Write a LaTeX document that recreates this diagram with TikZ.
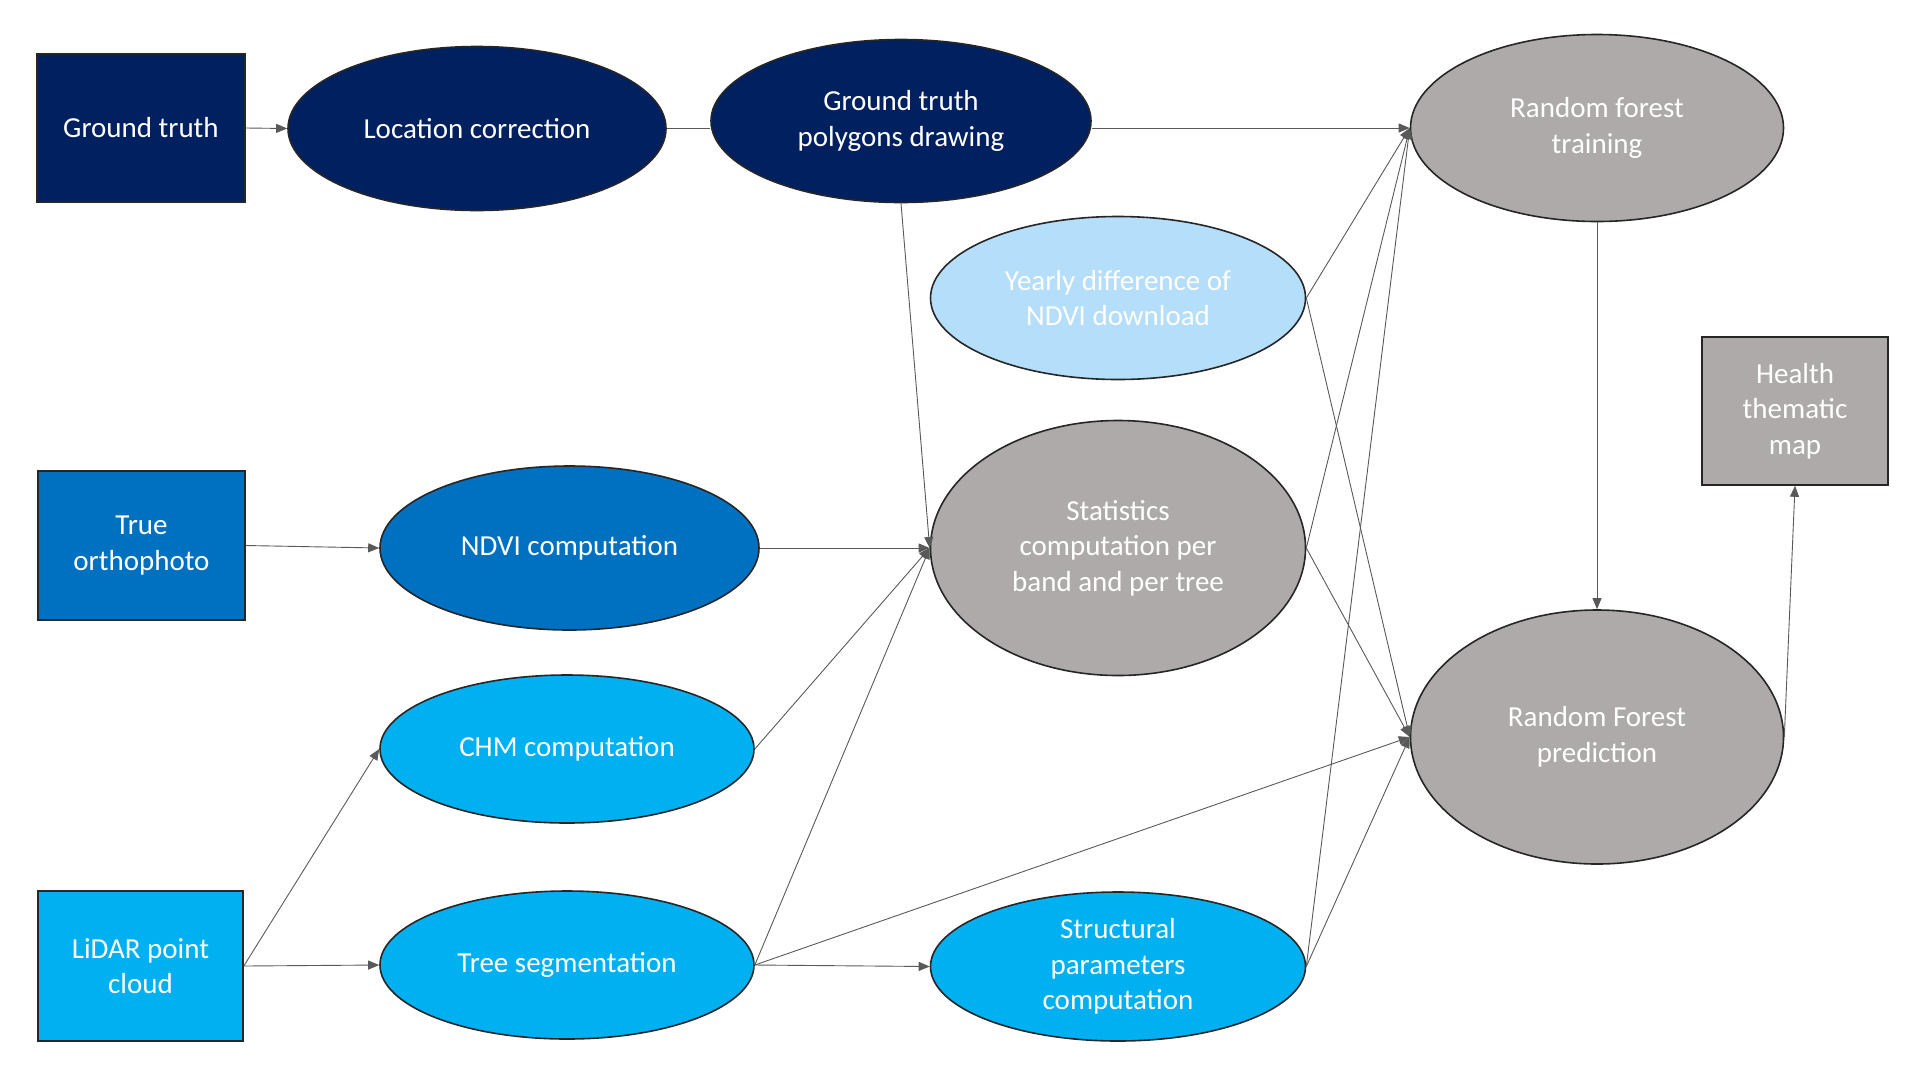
\documentclass[tikz,border=0pt]{standalone}
\usepackage{fontspec}
\setmainfont{Carlito}
\usetikzlibrary{shapes.geometric,arrows.meta}
\definecolor{navy}{HTML}{002060}
\definecolor{midblue}{HTML}{0070C0}
\definecolor{skyblue}{HTML}{00B0F0}
\definecolor{paleblue}{HTML}{B4DEFA}
\definecolor{greyfill}{HTML}{AEAAAA}
\definecolor{linegrey}{HTML}{595959}
\tikzset{
  lbl/.style={text=white, font=\fontsize{29}{35.5}\selectfont, align=center, inner sep=0pt},
  ell/.style={lbl, ellipse, draw=black!85, line width=1.6pt},
  boxnode/.style={lbl, rectangle, draw=black!85, line width=1.6pt},
  conn/.style={draw=linegrey, line width=0.9pt},
  arr/.style={conn, -{Triangle[length=11pt,width=9pt]}}
}
\begin{document}
\begin{tikzpicture}[x=1pt,y=-1pt]
\useasboundingbox (0,0) rectangle (1905,1080);
% nodes
\node[boxnode, fill=navy, minimum width=208pt, minimum height=148pt] (gt) at (141,128) {Ground truth};
\node[ell, fill=navy, minimum width=378pt, minimum height=164pt] (loc) at (477,128.5) {Location correction};
\node[ell, fill=navy, minimum width=380pt, minimum height=163pt] (gtp) at (901,121) {Ground truth\\polygons drawing};
\node[ell, fill=greyfill, minimum width=373pt, minimum height=187pt] (rft) at (1597,128) {Random forest\\training};
\node[ell, fill=paleblue, minimum width=375pt, minimum height=163pt] (yd) at (1118,298) {Yearly difference of\\NDVI download};
\node[ell, fill=greyfill, minimum width=375pt, minimum height=255pt] (stat) at (1118,548) {Statistics\\computation per\\band and per tree};
\node[boxnode, fill=greyfill, minimum width=186pt, minimum height=148pt] (hm) at (1795,411) {Health\\thematic\\map};
\node[ell, fill=greyfill, minimum width=373pt, minimum height=254pt] (rfp) at (1597,737) {Random Forest\\prediction};
\node[boxnode, fill=midblue, minimum width=207pt, minimum height=149pt] (to) at (141.5,545.5) {True\\orthophoto};
\node[ell, fill=midblue, minimum width=379pt, minimum height=164pt] (ndvi) at (569.5,548) {NDVI computation};
\node[ell, fill=skyblue, minimum width=374pt, minimum height=148pt] (chm) at (567,749) {CHM computation};
\node[boxnode, fill=skyblue, minimum width=205pt, minimum height=150pt] (lid) at (140.5,966) {LiDAR point\\cloud};
\node[ell, fill=skyblue, minimum width=374pt, minimum height=148pt] (ts) at (567,965) {Tree segmentation};
\node[ell, fill=skyblue, minimum width=375pt, minimum height=149pt] (sp) at (1118,966.5) {Structural\\parameters\\computation};
% connectors
\draw[arr] (gt.east) -- (loc.west);
\draw[conn] (loc.east) -- (gtp.west |- loc.east);
\draw[arr] (gtp.east |- rft.west) -- (rft.west);
\draw[arr] (gtp.south) -- (stat.west);
\draw[arr] (to.east) -- (ndvi.west);
\draw[arr] (ndvi.east) -- (stat.west);
\draw[arr] (chm.east) -- (stat.west);
\draw[arr] (ts.east) -- (stat.west);
\draw[arr] (lid.east) -- (chm.west);
\draw[arr] (lid.east) -- (ts.west);
\draw[arr] (ts.east) -- (sp.west);
\draw[arr] (ts.east) -- (rfp.west);
\draw[arr] (yd.east) -- (rft.west);
\draw[arr] (yd.east) -- (rfp.west);
\draw[arr] (stat.east) -- (rft.west);
\draw[arr] (stat.east) -- (rfp.west);
\draw[arr] (sp.east) -- (rft.west);
\draw[arr] (sp.east) -- (rfp.west);
\draw[arr] (rft.south) -- (rfp.north);
\draw[arr] (rfp.east) -- (hm.south);
\end{tikzpicture}
\end{document}
